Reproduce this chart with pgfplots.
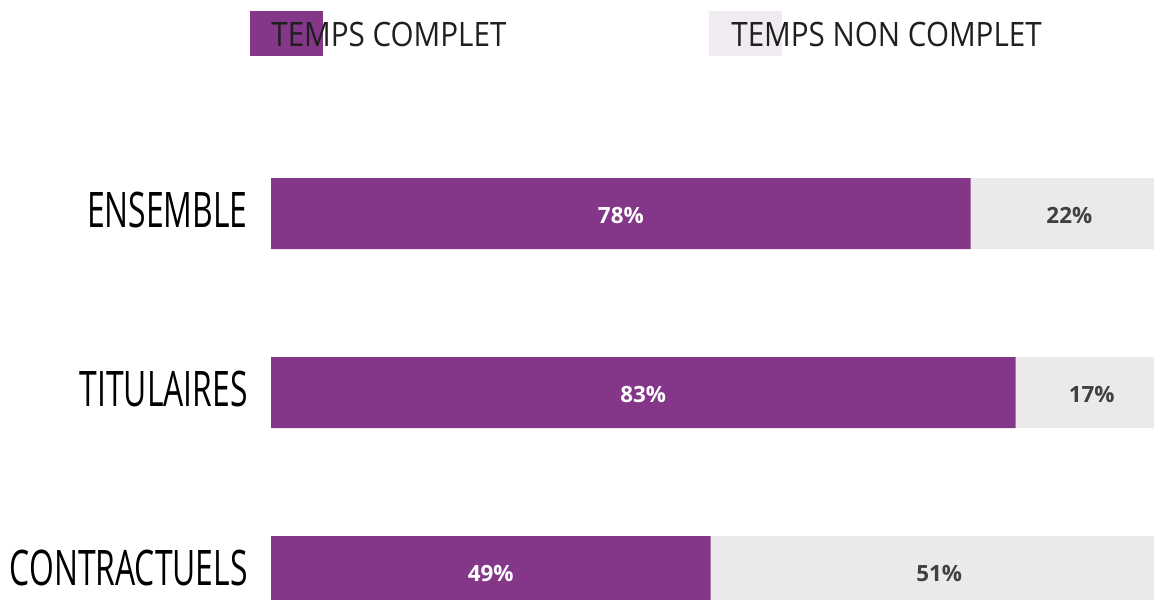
\documentclass[border=0pt]{standalone}
\usepackage{pgfplots}
\pgfplotsset{compat=1.18}
\usepackage{fontspec}
\setmainfont{Open Sans}
\newfontfamily\catfont[FakeStretch=0.65]{Open Sans}
\newfontfamily\legfont[FakeStretch=0.88]{Open Sans}
\definecolor{violet}{HTML}{843689}
\definecolor{grisbar}{HTML}{EAEAEA}
\definecolor{lavande}{HTML}{F0EBF1}
\definecolor{texte}{HTML}{404040}
\pgfplotsset{commonaxis/.style={at={(135.5pt,-31pt)}, anchor=south west, scale only axis,
  width=448.5pt, height=268.5pt,
  xmin=0, xmax=100, ymin=-0.5, ymax=2.5,
  xtick=\empty, axis line style={draw=none}, major tick length=0pt, clip=false}}
\begin{document}
\begin{tikzpicture}[x=1pt,y=1pt]
\useasboundingbox (0,0) rectangle (577,299.5);
\clip (0,0) rectangle (577,299.5);
\fill[violet] (125,271.5) rectangle (161.5,294);
\node[anchor=base west, inner sep=0pt, font=\legfont\fontsize{16.8}{18}\selectfont, text=black!88] at (135.5,276) {TEMPS COMPLET};
\fill[lavande] (354.5,271.5) rectangle (391,294);
\node[anchor=base west, inner sep=0pt, font=\legfont\fontsize{16.8}{18}\selectfont, text=black!88] at (365.5,276) {TEMPS NON COMPLET};
\begin{axis}[commonaxis,
  xbar stacked, bar width=35.5pt,
  ytick={0,1,2}, yticklabels={CONTRACTUELS,TITULAIRES,ENSEMBLE},
  yticklabel style={anchor=east, inner sep=0pt, xshift=-11.5pt, yshift=2pt, font=\catfont\fontsize{24.5}{26}\selectfont}]
\addplot[fill=violet, draw=none] coordinates {(49,0) (83,1) (78,2)};
\addplot[fill=grisbar, draw=none] coordinates {(51,0) (17,1) (22,2)};
\end{axis}
\begin{axis}[commonaxis, ytick=\empty,
  nodes near coords, point meta=explicit symbolic,
  every node near coord/.style={anchor=center, inner sep=0pt, yshift=-1pt, font=\bfseries\fontsize{11.2}{12}\selectfont}]
\addplot[draw=none, mark=none, nodes near coords style={text=white}] coordinates {(24.5,0) [49\%] (41.5,1) [83\%] (39,2) [78\%]};
\addplot[draw=none, mark=none, nodes near coords style={text=texte}] coordinates {(74.5,0) [51\%] (91.5,1) [17\%] (89,2) [22\%]};
\end{axis}
\end{tikzpicture}
\end{document}
